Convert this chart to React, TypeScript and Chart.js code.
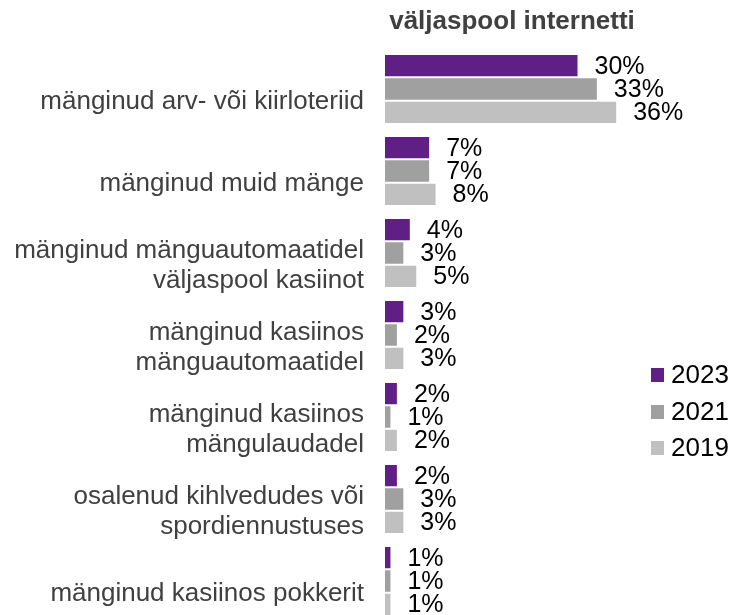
import { useEffect, useRef } from "react";
import { Chart, registerables } from "chart.js";

Chart.register(...registerables);

const categories: (string | string[])[] = [
  "mänginud arv- või kiirloteriid",
  "mänginud muid mänge",
  ["mänginud mänguautomaatidel", "väljaspool kasiinot"],
  ["mänginud kasiinos", "mänguautomaatidel"],
  ["mänginud kasiinos", "mängulaudadel"],
  ["osalenud kihlvedudes või", "spordiennustuses"],
  "mänginud kasiinos pokkerit",
];
const values2023 = [30, 7, 4, 3, 2, 2, 1];
const values2021 = [33, 7, 3, 2, 1, 3, 1];
const values2019 = [36, 8, 5, 3, 2, 3, 1];
const seriesNames = ["2023", "2021", "2019"];
const seriesColors = ["#5F1F85", "#A0A0A0", "#C0C0C0"];
const titleText = "väljaspool internetti";

const FONT = "'Liberation Sans', Arial, sans-serif";

export default function App() {
  const ref = useRef<HTMLCanvasElement>(null);

  useEffect(() => {
    const canvas = ref.current;
    if (!canvas) return;

    const overlay = {
      id: "overlay",
      afterDatasetsDraw(chart: any) {
        const ctx = chart.ctx as CanvasRenderingContext2D;
        ctx.save();
        // data labels
        ctx.font = `25px ${FONT}`;
        ctx.fillStyle = "#000000";
        ctx.textAlign = "left";
        ctx.textBaseline = "middle";
        chart.data.datasets.forEach((ds: any, di: number) => {
          const meta = chart.getDatasetMeta(di);
          meta.data.forEach((el: any, i: number) => {
            ctx.fillText(`${ds.data[i]}%`, el.x + 16, el.y + 1);
          });
        });
        // title
        ctx.font = `bold 26px ${FONT}`;
        ctx.fillStyle = "#404040";
        ctx.textAlign = "center";
        ctx.textBaseline = "alphabetic";
        ctx.fillText(titleText, 512, 29);
        // legend
        const lx = 651;
        const ly = [375, 412, 448];
        ctx.font = `26px ${FONT}`;
        ctx.textAlign = "left";
        ctx.textBaseline = "middle";
        seriesNames.forEach((name, i) => {
          ctx.fillStyle = seriesColors[i];
          ctx.fillRect(lx, ly[i] - 7, 13, 14);
          ctx.fillStyle = "#000000";
          ctx.fillText(name, lx + 20, ly[i] + 1);
        });
        ctx.restore();
      },
    };

    const series = [values2023, values2021, values2019];
    const chart = new Chart(canvas, {
      type: "bar",
      data: {
        labels: categories,
        datasets: series.map((data, i) => ({
          label: seriesNames[i],
          data,
          backgroundColor: seriesColors[i],
          borderColor: "rgba(255,255,255,0.7)",
          borderWidth: 1,
          categoryPercentage: 0.854,
          barPercentage: 1,
        })),
      },
      options: {
        indexAxis: "y",
        responsive: false,
        animation: false,
        layout: { padding: { top: 48, bottom: 18, left: 0, right: 90 } },
        plugins: {
          legend: { display: false },
          tooltip: { enabled: false },
          title: { display: false },
        },
        scales: {
          x: { display: false, min: 0, max: 40 },
          y: {
            afterFit: (s: any) => {
              s.width = 385;
              s.paddingTop = 0;
              s.paddingBottom = 0;
            },
            grid: { display: false, drawTicks: false },
            border: { display: false },
            ticks: {
              color: "#404040",
              font: { family: FONT, size: 26, lineHeight: 30 / 26 },
              padding: 21,
              labelOffset: 13,
              autoSkip: false,
            },
          },
        },
      },
      plugins: [overlay],
    });

    return () => chart.destroy();
  }, []);

  return (
    <div
      style={{
        position: "fixed",
        left: 0,
        top: 0,
        width: 733,
        height: 615,
        overflow: "hidden",
        background: "#ffffff",
      }}
    >
      <canvas ref={ref} width={733} height={640} style={{ display: "block" }} />
    </div>
  );
}
